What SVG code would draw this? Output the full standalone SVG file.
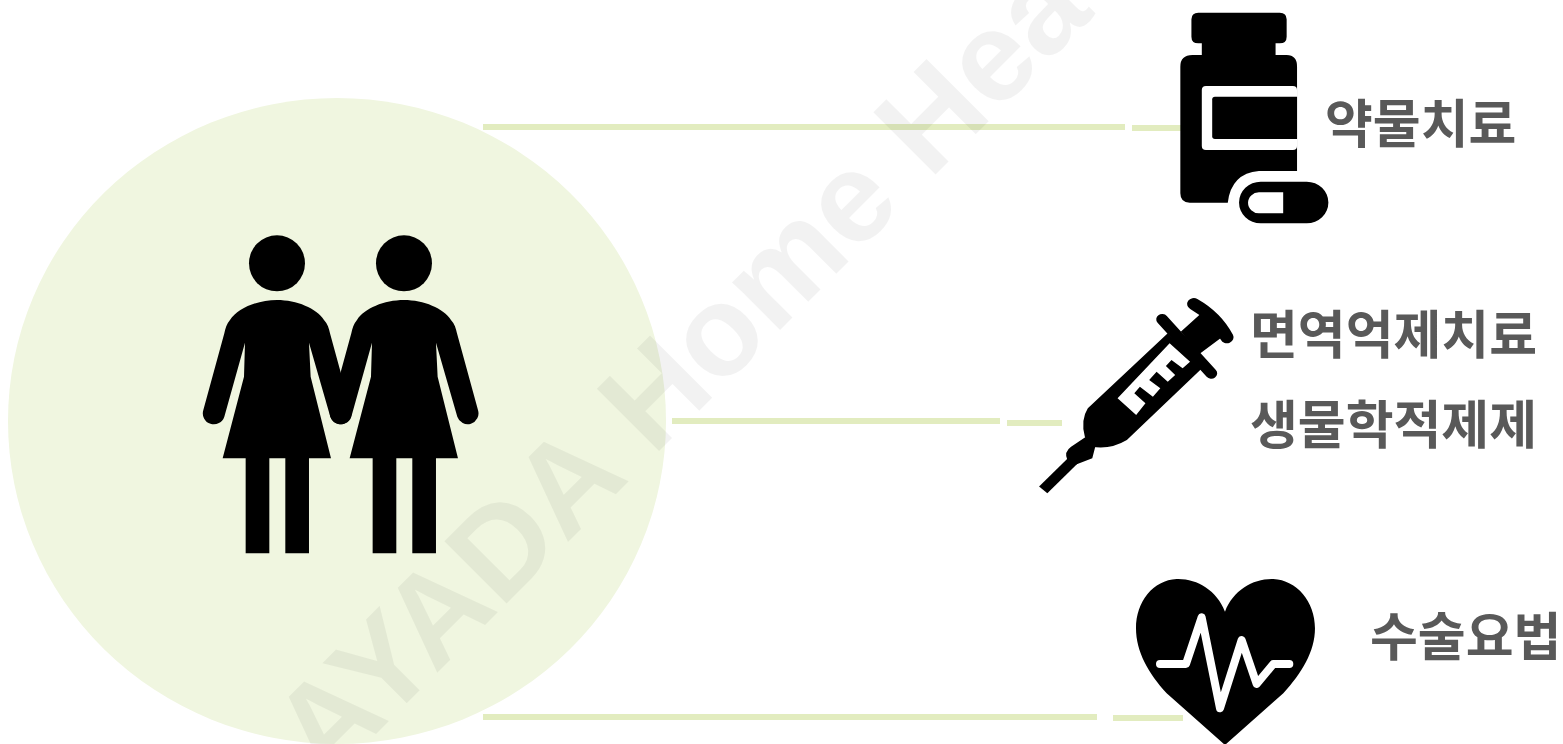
<svg xmlns="http://www.w3.org/2000/svg" width="1563" height="744" viewBox="0 0 1563 744">
<style>
.lbl{font-family:"Noto Sans CJK KR","Noto Sans",sans-serif;font-weight:700;font-size:52px;fill:#595959}
.wm{font-family:"Liberation Sans",Arial,sans-serif;font-weight:700;font-size:128px;fill:#000;fill-opacity:.05}
.con{stroke:#e2ecbf;stroke-width:6;fill:none}
.ic{fill:#000}
.st{fill:none;stroke:#000;stroke-linecap:round}
</style>
<defs>
<path id="woman" d="M291,240C350,240 410,265 432,300C443,312 447,325 450,340L513,570A32,32 0 0 1 451,590L387,368L392,470L453,715L387,715L387,1000L316,1000L316,715L268,715L268,1000L197,1000L197,715L128,715L192,470L195,368L133,590A32,32 0 0 1 70,570L133,340C136,325 140,312 150,300C172,265 232,240 291,240Z"/>
</defs>
<rect width="1563" height="744" fill="#fff"/>
<g id="center-circle"><ellipse cx="337" cy="421" rx="329" ry="323" fill="#f0f6e0"/></g>
<g id="connectors">
<path class="con" d="M483,127H1125M1132,128H1181"/>
<path class="con" d="M672,421H1000M1007,423H1062"/>
<path class="con" d="M483,717H1097M1113,718H1183"/>
</g>
<text class="wm" transform="translate(326,784) rotate(-45)">AYADA Home Hea</text>
<g id="people" class="ic" transform="translate(180,220) scale(.3333)">
<circle cx="291" cy="130" r="84"/><circle cx="672" cy="130" r="84"/>
<use href="#woman"/><use href="#woman" x="381"/>
</g>
<g id="medicine">
<g transform="translate(1020,0) scale(.3463,.3333)">
<path class="ic" d="M515,38H750Q770,38 770,58V110Q770,130 750,130H738V165H770Q800,165 800,200V513H690Q610,520 600,608H490Q463,608 463,580V200Q463,165 498,165H525V130H515Q495,130 495,110V58Q495,38 515,38Z"/>
<rect x="525" y="258" width="275" height="192" rx="12" fill="#fff"/>
<path class="ic" d="M563,290H800V417H563Q555,417 555,409V298Q555,290 563,290Z"/>
<path class="ic" fill-rule="evenodd" d="M695,545H828A62,62 0 0 1 828,670H695A62,62 0 0 1 695,545ZM690,577A31,31 0 0 0 690,640H760V577Z"/>
</g>
<text class="lbl" x="1325" y="143">약물치료</text>
</g>
<g id="immunotherapy">
<g transform="translate(980,280) scale(.3718,.3333)">
<path class="st" stroke-width="36" d="M575,72Q635,110 664,172"/>
<path class="st" stroke-width="32" d="M490,118L622,280"/>
<path class="ic" d="M610,85L665,160L590,222L540,155ZM505,160L600,262L395,480Q350,510 300,500L282,470Q270,420 290,385Z"/>
<path class="ic" d="M285,470L310,500L302,535L255,555L235,540Q225,515 245,500Z"/>
<path fill="none" stroke="#000" stroke-width="30" d="M270,520L170,630"/>
<path fill="#fff" d="M510,190L565,245L545,265L515,240L500,258L525,285L505,305L475,275L455,300L485,325L465,350L430,320L415,340L445,370L420,405L370,355Z"/>
</g>
<text class="lbl" x="1250" y="354">면역억제치료</text>
<text class="lbl" x="1250" y="444">생물학적제제</text>
</g>
<g id="surgery">
<g transform="translate(1060,560) scale(.3333)">
<path class="ic" d="M495,155C470,90 410,55 350,57C280,60 228,125 228,205C228,275 265,340 320,400L495,555L670,400C725,340 765,275 765,205C765,125 710,60 640,57C580,55 520,90 495,155Z"/>
<path fill="none" stroke="#fff" stroke-width="24" stroke-linejoin="round" stroke-linecap="round" d="M300,312H378L425,172L480,445L545,240L590,372L640,312H688"/>
</g>
<text class="lbl" x="1370" y="656">수술요법</text>
</g>
</svg>
